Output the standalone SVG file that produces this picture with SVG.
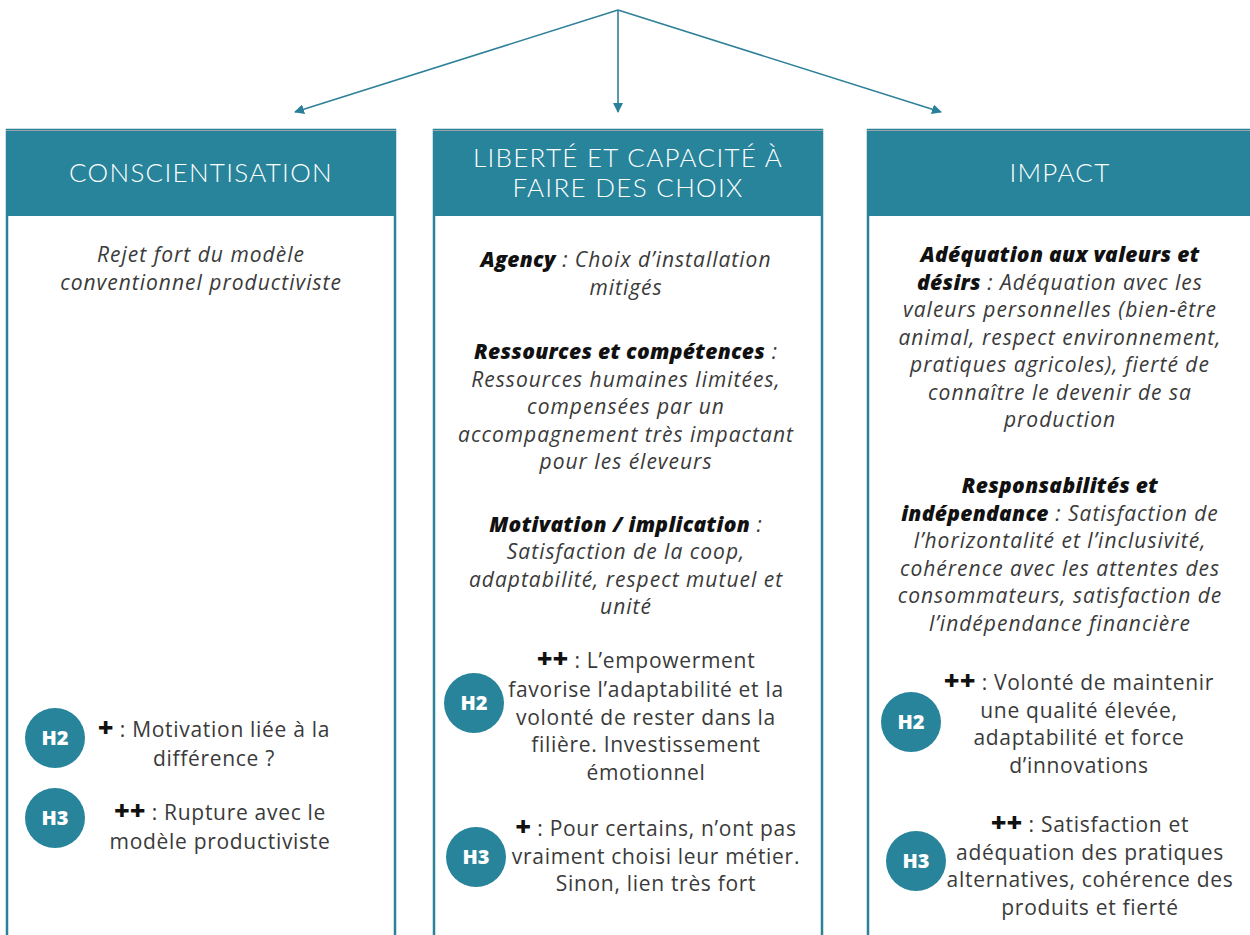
<svg xmlns="http://www.w3.org/2000/svg" width="1250" height="935" viewBox="0 0 1250 935">
<defs>
<marker id="ah" markerWidth="10" markerHeight="10" refX="9" refY="5" orient="auto" markerUnits="userSpaceOnUse" viewBox="0 0 10 10">
<path d="M0,0 L10,5 L0,10 z" fill="#2b8099"/>
</marker>
<style>
.box{fill:#fff;stroke:#2a8198;stroke-width:2.5}
.hdr{fill:#27849b}
.htxt{font-family:Lato,"Open Sans",sans-serif;font-size:26px;fill:#fff;text-anchor:middle;font-weight:300;letter-spacing:1.3px}
.t{font-family:"Open Sans",Lato,sans-serif;font-size:21px;fill:#3a3a3a;text-anchor:middle;letter-spacing:0.7px}
.i{font-style:italic;letter-spacing:1px}
.b{font-weight:800;fill:#111;letter-spacing:0.3px}
.p{font-weight:900;fill:#111;font-size:27px;letter-spacing:0}
.c{fill:#27849b}
.ctxt{font-family:"Open Sans",Lato,sans-serif;font-size:20px;font-weight:800;fill:#fff;text-anchor:middle}
.conn{stroke:#2e8199;stroke-width:1.6;fill:none}
</style>
</defs>
<rect width="1250" height="935" fill="#fff"/>
<g id="connectors">
<line class="conn" x1="618" y1="10" x2="295" y2="112" marker-end="url(#ah)"/>
<line class="conn" x1="618" y1="10" x2="618" y2="112" marker-end="url(#ah)"/>
<line class="conn" x1="618" y1="10" x2="941" y2="112" marker-end="url(#ah)"/>
</g>
<g id="conscientisation">
<rect class="box" x="7" y="130" width="388" height="820"/>
<rect class="hdr" x="6" y="130" width="390" height="86"/>
<line x1="6" y1="130.5" x2="396" y2="130.5" stroke="#9aa5aa" stroke-width="1"/>
<text class="htxt" x="201" y="182">CONSCIENTISATION</text>
<text class="t i" x="201" y="262">Rejet fort du modèle</text>
<text class="t i" x="201" y="290">conventionnel productiviste</text>
<circle class="c" cx="55" cy="738" r="30"/>
<text class="ctxt" x="55" y="745">H2</text>
<text class="t" x="214" y="737"><tspan class="p">+</tspan> : Motivation liée à la</text>
<text class="t" x="214" y="766">différence ?</text>
<circle class="c" cx="55" cy="818" r="30"/>
<text class="ctxt" x="55" y="825">H3</text>
<text class="t" x="220" y="820"><tspan class="p">++</tspan> : Rupture avec le</text>
<text class="t" x="220" y="849">modèle productiviste</text>
</g>
<g id="liberte">
<rect class="box" x="434" y="130" width="388" height="820"/>
<rect class="hdr" x="433" y="130" width="390" height="86"/>
<line x1="433" y1="130.5" x2="823" y2="130.5" stroke="#9aa5aa" stroke-width="1"/>
<text class="htxt" x="628" y="167">LIBERTÉ ET CAPACITÉ À</text>
<text class="htxt" x="628" y="197">FAIRE DES CHOIX</text>
<text class="t i" x="626" y="267"><tspan class="b">Agency</tspan> :  Choix d’installation</text>
<text class="t i" x="626" y="295">mitigés</text>
<text class="t i" x="626" y="359"><tspan class="b">Ressources et compétences</tspan> :</text>
<text class="t i" x="626" y="387">Ressources humaines limitées,</text>
<text class="t i" x="626" y="414">compensées par un</text>
<text class="t i" x="626" y="442">accompagnement très impactant</text>
<text class="t i" x="626" y="469">pour les éleveurs</text>
<text class="t i" x="626" y="532"><tspan class="b">Motivation / implication</tspan> :</text>
<text class="t i" x="626" y="559">Satisfaction de la coop,</text>
<text class="t i" x="626" y="587">adaptabilité, respect mutuel et</text>
<text class="t i" x="626" y="614">unité</text>
<circle class="c" cx="474" cy="703" r="30"/>
<text class="ctxt" x="474" y="710">H2</text>
<text class="t" x="646" y="668"><tspan class="p">++</tspan> : L’empowerment</text>
<text class="t" x="646" y="697">favorise l’adaptabilité et la</text>
<text class="t" x="646" y="725">volonté de rester dans la</text>
<text class="t" x="646" y="752">filière. Investissement</text>
<text class="t" x="646" y="780">émotionnel</text>
<circle class="c" cx="476" cy="857" r="30"/>
<text class="ctxt" x="476" y="864">H3</text>
<text class="t" x="656" y="836"><tspan class="p">+</tspan> : Pour certains, n’ont pas</text>
<text class="t" x="656" y="864">vraiment choisi leur métier.</text>
<text class="t" x="656" y="891">Sinon, lien très fort</text>
</g>
<g id="impact">
<rect class="box" x="868" y="130" width="400" height="820"/>
<rect class="hdr" x="867" y="130" width="400" height="86"/>
<line x1="867" y1="130.5" x2="1250" y2="130.5" stroke="#9aa5aa" stroke-width="1"/>
<text class="htxt" x="1060" y="182">IMPACT</text>
<text class="t i" x="1060" y="262"><tspan class="b">Adéquation aux valeurs et</tspan></text>
<text class="t i" x="1060" y="290"><tspan class="b">désirs</tspan> : Adéquation avec les</text>
<text class="t i" x="1060" y="317">valeurs personnelles (bien-être</text>
<text class="t i" x="1060" y="345">animal, respect environnement,</text>
<text class="t i" x="1060" y="372">pratiques agricoles), fierté de</text>
<text class="t i" x="1060" y="400">connaître le devenir de sa</text>
<text class="t i" x="1060" y="427">production</text>
<text class="t i" x="1060" y="493"><tspan class="b">Responsabilités et</tspan></text>
<text class="t i" x="1060" y="521"><tspan class="b">indépendance</tspan> : Satisfaction de</text>
<text class="t i" x="1060" y="548">l’horizontalité et l’inclusivité,</text>
<text class="t i" x="1060" y="576">cohérence avec les attentes des</text>
<text class="t i" x="1060" y="603">consommateurs, satisfaction de</text>
<text class="t i" x="1060" y="631">l’indépendance financière</text>
<circle class="c" cx="911" cy="722" r="30"/>
<text class="ctxt" x="911" y="729">H2</text>
<text class="t" x="1079" y="690"><tspan class="p">++</tspan> : Volonté de maintenir</text>
<text class="t" x="1079" y="718">une qualité élevée,</text>
<text class="t" x="1079" y="745">adaptabilité et force</text>
<text class="t" x="1079" y="773">d’innovations</text>
<circle class="c" cx="916" cy="861" r="30"/>
<text class="ctxt" x="916" y="868">H3</text>
<text class="t" x="1090" y="832"><tspan class="p">++</tspan> : Satisfaction et</text>
<text class="t" x="1090" y="860">adéquation des pratiques</text>
<text class="t" x="1090" y="887">alternatives, cohérence des</text>
<text class="t" x="1090" y="915">produits et fierté</text>
</g>
</svg>
